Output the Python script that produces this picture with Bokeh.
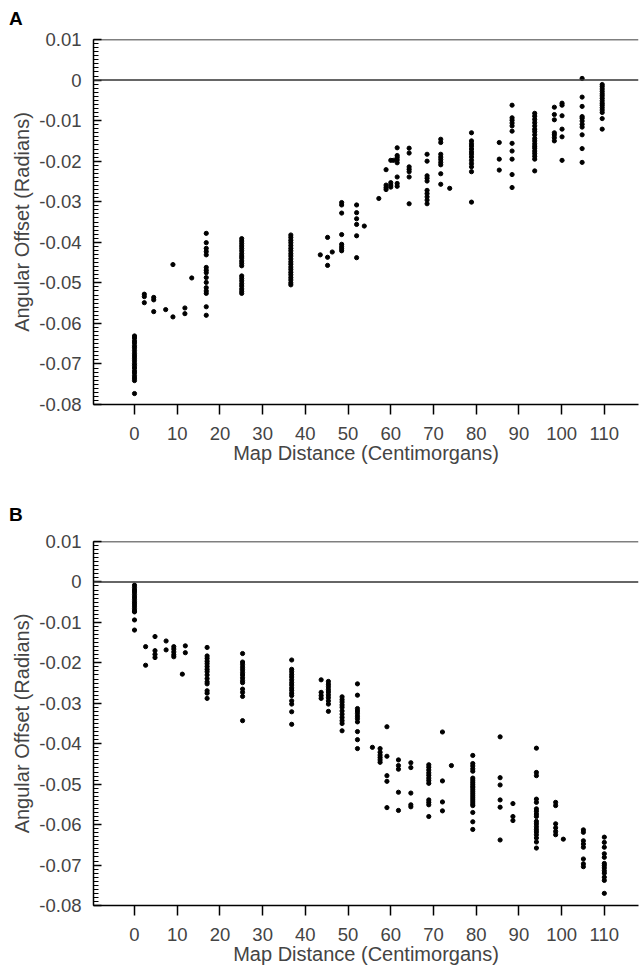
from bokeh.plotting import figure
from bokeh.models import Range1d, Span, Div, SingleIntervalTicker, FixedTicker, CustomJSTickFormatter
from bokeh.layouts import column
from bokeh.embed import file_html
from bokeh.resources import INLINE

# ---------------- data ----------------
x_ticks = [0, 10, 20, 30, 40, 50, 60, 70, 80, 90, 100, 110]
x_title = "Map Distance (Centimorgans)"
y_title = "Angular Offset (Radians)"

# Panel A: map position of each marker and the offsets measured there
loci_a = [0, 2.3, 4.5, 7.3, 9.0, 11.8, 13.4, 16.8, 25.1, 36.6, 43.5, 45.2, 46.3,
          48.5, 52.0, 53.8, 57.2, 58.9, 60.0, 60.6, 61.5, 64.3, 68.5, 71.7, 73.8,
          78.9, 85.4, 88.4, 93.7, 98.3, 100.1, 104.8, 109.5]
offsets_a = [
    [-0.0631, -0.0636, -0.0643, -0.0648, -0.0655, -0.0660, -0.0667, -0.0674, -0.0680, -0.0686,
     -0.0692, -0.0699, -0.0704, -0.0710, -0.0717, -0.0722, -0.0729, -0.0735, -0.0741, -0.0773],
    [-0.0528, -0.0534, -0.0549],
    [-0.0536, -0.0542, -0.0571],
    [-0.0566],
    [-0.0455, -0.0584],
    [-0.0562, -0.0576],
    [-0.0488],
    [-0.0378, -0.0401, -0.0415, -0.0423, -0.0431, -0.0462, -0.0469, -0.0475, -0.0487, -0.0499,
     -0.0512, -0.0520, -0.0526, -0.0559, -0.0580],
    [-0.0391, -0.0397, -0.0403, -0.0409, -0.0415, -0.0421, -0.0428, -0.0434, -0.0439, -0.0446,
     -0.0452, -0.0458, -0.0483, -0.0489, -0.0495, -0.0502, -0.0508, -0.0515, -0.0521, -0.0526],
    [-0.0382, -0.0388, -0.0395, -0.0401, -0.0408, -0.0415, -0.0421, -0.0428, -0.0434, -0.0441,
     -0.0448, -0.0454, -0.0461, -0.0467, -0.0474, -0.0480, -0.0487, -0.0493, -0.0500, -0.0505],
    [-0.0431],
    [-0.0388, -0.0437, -0.0457],
    [-0.0424],
    [-0.0302, -0.0308, -0.0328, -0.0381, -0.0405, -0.0411, -0.0416, -0.0421],
    [-0.0308, -0.0327, -0.0342, -0.0356, -0.0384, -0.0438],
    [-0.0360],
    [-0.0292],
    [-0.0221, -0.0259, -0.0265, -0.0270],
    [-0.0198, -0.0253, -0.0259, -0.0264],
    [-0.0198],
    [-0.0167, -0.0186, -0.0191, -0.0197, -0.0204, -0.0239, -0.0255, -0.0262],
    [-0.0168, -0.0180, -0.0214, -0.0220, -0.0226, -0.0239, -0.0305],
    [-0.0183, -0.0200, -0.0236, -0.0242, -0.0249, -0.0272, -0.0280, -0.0288, -0.0296, -0.0305],
    [-0.0146, -0.0154, -0.0183, -0.0190, -0.0196, -0.0203, -0.0209, -0.0231, -0.0257],
    [-0.0267],
    [-0.0130, -0.0150, -0.0157, -0.0163, -0.0170, -0.0177, -0.0183, -0.0190, -0.0198, -0.0206,
     -0.0214, -0.0226, -0.0301],
    [-0.0154, -0.0195, -0.0222],
    [-0.0062, -0.0093, -0.0099, -0.0106, -0.0113, -0.0126, -0.0156, -0.0175, -0.0195, -0.0233, -0.0265],
    [-0.0082, -0.0089, -0.0097, -0.0105, -0.0113, -0.0121, -0.0127, -0.0135, -0.0144, -0.0150,
     -0.0157, -0.0163, -0.0168, -0.0175, -0.0181, -0.0188, -0.0195, -0.0224],
    [-0.0067, -0.0085, -0.0098, -0.0130, -0.0135, -0.0142, -0.0150],
    [-0.0057, -0.0062, -0.0088, -0.0121, -0.0140, -0.0198],
    [0.0004, -0.0042, -0.0065, -0.0090, -0.0094, -0.0101, -0.0109, -0.0116, -0.0135, -0.0169, -0.0203],
    [-0.0011, -0.0016, -0.0022, -0.0028, -0.0034, -0.0039, -0.0045, -0.0051, -0.0057, -0.0062,
     -0.0068, -0.0074, -0.0080, -0.0095, -0.0121],
]

# Panel B
loci_b = [0, 2.6, 4.8, 7.4, 9.2, 11.2, 11.9, 17.0, 25.3, 36.8, 43.7, 45.4, 48.6, 52.2,
          55.7, 57.5, 59.1, 61.8, 64.7, 68.9, 72.1, 74.2, 79.2, 85.6, 88.6, 94.1, 98.6,
          100.4, 105.1, 110.0]
offsets_b = [
    [-0.0008, -0.0014, -0.0020, -0.0025, -0.0031, -0.0037, -0.0043, -0.0049, -0.0054, -0.0060,
     -0.0066, -0.0072, -0.0074, -0.0094, -0.0119],
    [-0.0160, -0.0206],
    [-0.0135, -0.0170, -0.0179, -0.0187],
    [-0.0146, -0.0168],
    [-0.0160, -0.0166, -0.0173, -0.0180, -0.0185],
    [-0.0228],
    [-0.0158, -0.0175],
    [-0.0162, -0.0183, -0.0189, -0.0196, -0.0202, -0.0209, -0.0216, -0.0222, -0.0230, -0.0239,
     -0.0247, -0.0252, -0.0269, -0.0275, -0.0288],
    [-0.0177, -0.0198, -0.0204, -0.0211, -0.0217, -0.0224, -0.0230, -0.0237, -0.0244, -0.0249,
     -0.0265, -0.0273, -0.0283, -0.0343],
    [-0.0193, -0.0216, -0.0222, -0.0229, -0.0235, -0.0242, -0.0249, -0.0255, -0.0262, -0.0268,
     -0.0275, -0.0281, -0.0294, -0.0302, -0.0321, -0.0352],
    [-0.0242, -0.0273, -0.0281, -0.0288],
    [-0.0246, -0.0253, -0.0259, -0.0266, -0.0272, -0.0279, -0.0286, -0.0294, -0.0302, -0.0320],
    [-0.0284, -0.0291, -0.0297, -0.0304, -0.0310, -0.0319, -0.0327, -0.0335, -0.0343, -0.0350, -0.0368],
    [-0.0252, -0.0280, -0.0313, -0.0319, -0.0325, -0.0332, -0.0338, -0.0346, -0.0370, -0.0390, -0.0412],
    [-0.0409],
    [-0.0412, -0.0421, -0.0428, -0.0434, -0.0440, -0.0446],
    [-0.0358, -0.0431, -0.0479, -0.0493, -0.0558],
    [-0.0440, -0.0454, -0.0463, -0.0520, -0.0565],
    [-0.0447, -0.0459, -0.0522, -0.0551, -0.0556],
    [-0.0452, -0.0458, -0.0465, -0.0472, -0.0478, -0.0485, -0.0491, -0.0498, -0.0539, -0.0545,
     -0.0551, -0.0580],
    [-0.0371, -0.0492, -0.0544, -0.0566],
    [-0.0454],
    [-0.0429, -0.0449, -0.0455, -0.0462, -0.0468, -0.0485, -0.0490, -0.0495, -0.0500, -0.0505,
     -0.0509, -0.0514, -0.0519, -0.0524, -0.0529, -0.0534, -0.0539, -0.0544, -0.0549, -0.0553,
     -0.0570, -0.0593, -0.0612],
    [-0.0383, -0.0484, -0.0502, -0.0539, -0.0557, -0.0638],
    [-0.0548, -0.0580, -0.0590],
    [-0.0411, -0.0471, -0.0479, -0.0537, -0.0545, -0.0561, -0.0567, -0.0574, -0.0580, -0.0592,
     -0.0598, -0.0605, -0.0612, -0.0618, -0.0625, -0.0633, -0.0643, -0.0658],
    [-0.0545, -0.0553, -0.0598, -0.0608, -0.0617, -0.0625],
    [-0.0636],
    [-0.0613, -0.0619, -0.0640, -0.0648, -0.0656, -0.0685, -0.0697, -0.0704],
    [-0.0631, -0.0644, -0.0656, -0.0672, -0.0681, -0.0696, -0.0701, -0.0707, -0.0714, -0.0720,
     -0.0730, -0.0738, -0.0770],
]

FONT = "Liberation Sans"
X_START, X_END = -9.6, 118.0
Y_START, Y_END = -0.08, 0.01


def letter_div(letter, height, top):
    html = (f'<div style="position:relative;width:642px;height:{height}px;">'
            f'<span style="position:absolute;left:9px;top:{top}px;'
            f"font-family:'{FONT}';font-size:19px;line-height:19px;font-weight:bold;"
            f'color:black;">{letter}</span></div>')
    return Div(text=html, width=642, height=height, margin=(0, 0, 0, 0))


def make_panel(loci, offsets, height, border_top, border_bottom):
    xs = [d for d, vals in zip(loci, offsets) for _ in vals]
    ys = [v for vals in offsets for v in vals]

    p = figure(width=642, height=height, output_backend="svg", toolbar_location=None,
               title=None,
               x_range=Range1d(X_START, X_END), y_range=Range1d(Y_START, Y_END),
               min_border_left=93, min_border_right=4,
               min_border_top=border_top, min_border_bottom=border_bottom)
    p.outline_line_color = None
    p.xgrid.visible = False
    p.ygrid.visible = False

    # top border line and zero line
    p.add_layout(Span(location=Y_END, dimension="width", line_color="black", line_width=1.5))
    p.add_layout(Span(location=0, dimension="width", line_color="#333333", line_width=1.5))

    p.scatter(xs, ys, size=4.2, color="black", marker="circle")

    xa = p.xaxis[0]
    xa.ticker = FixedTicker(ticks=x_ticks)
    xa.axis_label = x_title
    xa.axis_line_width = 1.5
    xa.major_tick_in = 0
    xa.major_tick_out = 10
    xa.major_tick_line_width = 1.5
    xa.minor_tick_line_color = None
    xa.major_label_standoff = 12
    xa.major_label_text_font = FONT
    xa.major_label_text_font_size = "18.5px"
    xa.axis_label_text_font = FONT
    xa.axis_label_text_font_size = "20px"
    xa.axis_label_text_font_style = "normal"
    xa.axis_label_standoff = -1

    ya = p.yaxis[0]
    ya.ticker = SingleIntervalTicker(interval=0.01, num_minor_ticks=10)
    ya.formatter = CustomJSTickFormatter(
        code="const v = Math.round(tick * 100); return v === 0 ? '0' : (v / 100).toFixed(2);")
    ya.axis_label = y_title
    ya.axis_line_width = 1.5
    ya.major_tick_in = 8
    ya.major_tick_out = 0
    ya.major_tick_line_width = 1.5
    ya.minor_tick_in = 5
    ya.minor_tick_out = 0
    ya.major_label_standoff = 12
    ya.major_label_text_font = FONT
    ya.major_label_text_font_size = "18.5px"
    ya.axis_label_text_font = FONT
    ya.axis_label_text_font_size = "20px"
    ya.axis_label_text_font_style = "normal"
    ya.axis_label_standoff = 3
    return p


div_a = letter_div("A", 30, 9)
pa = make_panel(loci_a, offsets_a, 459, 9, 85)
div_b = letter_div("B", 40, 16)
pb = make_panel(loci_b, offsets_b, 440, 12, 64)

layout = column(div_a, pa, div_b, pb, spacing=0)
open("out.html", "w").write(file_html(layout, INLINE))
